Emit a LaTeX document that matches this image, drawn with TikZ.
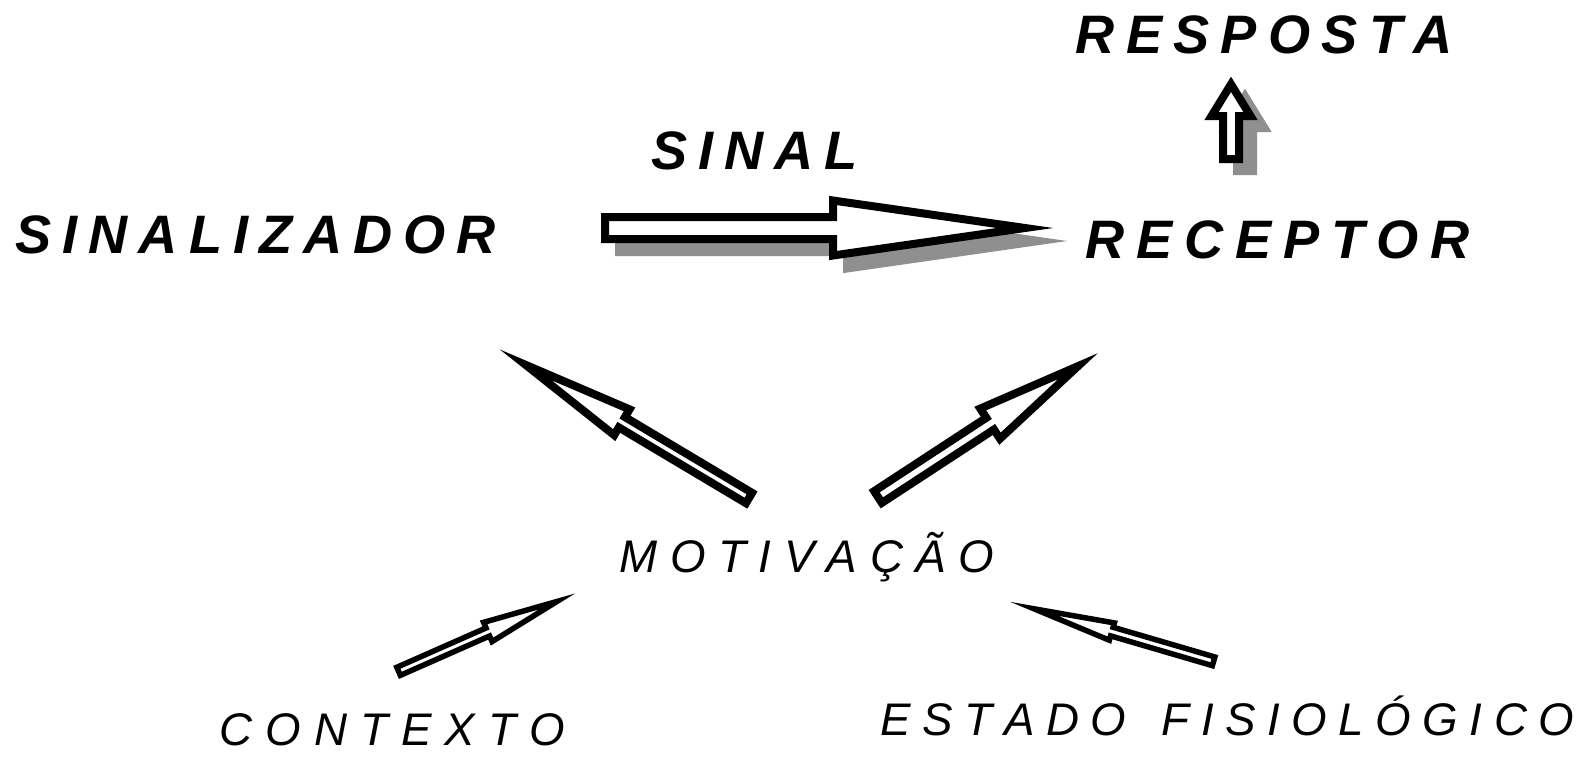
\documentclass[tikz,border=0pt]{standalone}
\usepackage{fontspec}
\setmainfont{Liberation Sans}
\makeatletter
\newcommand\spacedtext[2]{\def\st@k{#2}\@tfor\st@c:=#1\do{\st@c\kern\st@k}\unkern}
\makeatother
\definecolor{shadowgray}{RGB}{143,143,143}
\newcommand\barrow[8]{%
\begin{scope}[shift={(#2,#3)},rotate=#4]
\draw[#1] (0,#6) -- ({#5-#8},#6) -- ({#5-#8},#7) -- (#5,0) -- ({#5-#8},-#7) -- ({#5-#8},-#6) -- (0,-#6) -- cycle;
\end{scope}}
\tikzset{
  bigarrow/.style={draw=black,fill=white,line width=0.08cm,line join=miter,miter limit=12},
  smallarrow/.style={draw=black,fill=white,line width=0.055cm,line join=miter,miter limit=12},
  shadowarrow/.style={draw=shadowgray,fill=shadowgray,line width=0.08cm,line join=miter,miter limit=12},
  boldlbl/.style={inner sep=0pt,anchor=base west,font=\fontsize{15.4}{18}\selectfont\bfseries\itshape},
  lightlbl/.style={inner sep=0pt,anchor=base west,font=\fontsize{13}{15}\selectfont\itshape}
}
\begin{document}
\begin{tikzpicture}[x=0.01cm,y=-0.01cm]
\useasboundingbox (0,0) rectangle (1585,757);
% shadows
\barrow{shadowarrow}{619}{241}{0}{420}{11}{27.5}{192}
\barrow{shadowarrow}{1245}{171}{90}{74.7}{8}{19.5}{31.7}
% arrows
\barrow{bigarrow}{605}{228}{0}{420}{11}{27.5}{192}
\barrow{bigarrow}{1231}{159}{90}{74.7}{8}{19.5}{31.7}
\barrow{bigarrow}{749}{498}{149.2}{260}{6}{15}{112}
\barrow{bigarrow}{878}{497}{33.2}{239}{7}{18}{105}
\barrow{smallarrow}{398.6}{671.3}{23.8}{173}{4.4}{10.5}{75.5}
\barrow{smallarrow}{1213.6}{661.3}{163.7}{187}{4.5}{9}{81}
% labels
\node[boldlbl] (sinalizador) at (15,253) {\spacedtext{SINALIZADOR}{0.11cm}};
\node[boldlbl] (sinal) at (651,169) {\spacedtext{SINAL}{0.108cm}};
\node[boldlbl] (receptor) at (1085,258) {\spacedtext{RECEPTOR}{0.118cm}};
\node[boldlbl] (resposta) at (1075,53) {\spacedtext{RESPOSTA}{0.113cm}};
\node[lightlbl] (motivacao) at (619,572) {\spacedtext{MOTIVAÇÃO}{0.125cm}};
\node[lightlbl] (contexto) at (219,745) {\spacedtext{CONTEXTO}{0.13cm}};
\node[lightlbl] (estado) at (880,735) {\spacedtext{ESTADO{\ }FISIOLÓGICO}{0.115cm}};
\end{tikzpicture}
\end{document}
